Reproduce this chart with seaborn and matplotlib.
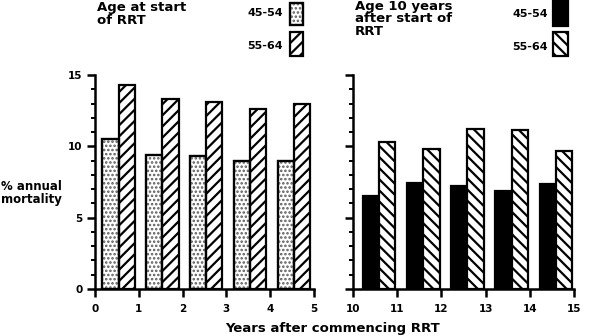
import numpy as np
import pandas as pd
import matplotlib
matplotlib.use("Agg")
import matplotlib.pyplot as plt
import seaborn as sns
from matplotlib.patches import Rectangle
from matplotlib.ticker import MultipleLocator

# ---- data ----
groups = ["45-54", "55-64"]
years_left = [0, 1, 2, 3, 4]
left_45_54 = [10.5, 9.4, 9.35, 8.95, 8.95]
left_55_64 = [14.3, 13.3, 13.1, 12.6, 13.0]
years_right = [10, 11, 12, 13, 14]
right_45_54 = [6.55, 7.45, 7.25, 6.85, 7.35]
right_55_64 = [10.3, 9.8, 11.2, 11.15, 9.7]
left_ticks = [0, 1, 2, 3, 4, 5]
right_ticks = [10, 11, 12, 13, 14, 15]
y_ticks = [0, 5, 10, 15]

sns.set_style("ticks")
plt.rcParams["font.family"] = ["DejaVu Sans"]
plt.rcParams["font.weight"] = "bold"
plt.rcParams["hatch.linewidth"] = 1.6
plt.rcParams["hatch.color"] = "black"
for k in ["text.color", "axes.labelcolor", "xtick.color", "ytick.color", "axes.edgecolor"]:
    plt.rcParams[k] = "black"

W, H = 590, 336
fig = plt.figure(figsize=(W / 100, H / 100), dpi=100)
fig.patch.set_facecolor("white")


def frac(x0, y0, w, h):
    return [x0 / W, 1 - (y0 + h) / H, w / W, h / H]


ax1 = fig.add_axes(frac(95, 75, 219, 214))
ax2 = fig.add_axes(frac(353, 75, 221, 214))


def make_df(years, a, b, offset):
    rows = []
    for yr, v in zip(years, a):
        rows.append({"pos": yr + offset, "val": v, "group": groups[0]})
    for yr, v in zip(years, b):
        rows.append({"pos": yr + offset, "val": v, "group": groups[1]})
    return pd.DataFrame(rows)


df_l = make_df(years_left, left_45_54, left_55_64, 0.54)
df_r = make_df(years_right, right_45_54, right_55_64, 0.59)

for ax, df in [(ax1, df_l), (ax2, df_r)]:
    sns.barplot(data=df, x="pos", y="val", hue="group", hue_order=groups,
                native_scale=True, width=0.74, dodge=True, errorbar=None,
                palette=["white", "white"], saturation=1, legend=False,
                edgecolor="black", linewidth=1.6, ax=ax)

DOT_COLOR = "#5a5a5a"

def set_hlw(p, lw):
    if hasattr(p, "set_hatch_linewidth"):
        p.set_hatch_linewidth(lw)

# styles
for p in ax1.containers[0]:
    p.set_facecolor("white")
    p.set_edgecolor(DOT_COLOR)
    p.set_hatch("....")
    set_hlw(p, 1.2)
    outline = Rectangle(p.get_xy(), p.get_width(), p.get_height(), facecolor="none",
                        edgecolor="black", linewidth=1.6, zorder=p.get_zorder() + 0.1)
    ax1.add_patch(outline)
for p in ax1.containers[1]:
    p.set_facecolor("white"); p.set_hatch("///")
for p in ax2.containers[0]:
    p.set_facecolor("black")
for p in ax2.containers[1]:
    p.set_facecolor("white"); p.set_hatch("\\\\\\")

for ax, ticks in [(ax1, left_ticks), (ax2, right_ticks)]:
    ax.set_xlim(ticks[0], ticks[-1])
    ax.set_ylim(0, 15)
    ax.set_xticks(ticks)
    ax.set_xticklabels([str(t) for t in ticks], fontsize=7.5, fontweight="bold")
    ax.set_yticks(y_ticks)
    ax.yaxis.set_minor_locator(MultipleLocator(1))
    ax.set_xlabel(""); ax.set_ylabel("")
    for s in ["top", "right"]:
        ax.spines[s].set_visible(False)
    for s in ["left", "bottom"]:
        ax.spines[s].set_linewidth(1.8)
    ax.tick_params(axis="x", direction="out", length=6, width=1.8, pad=5)
    ax.tick_params(axis="y", which="major", direction="out", length=6, width=1.8, pad=3)
    ax.tick_params(axis="y", which="minor", direction="out", length=3, width=1.4)
    ax.set_facecolor("white")

ax1.set_yticklabels([str(t) for t in y_ticks], fontsize=7.5, fontweight="bold")
ax2.set_yticklabels([])

# y label
fig.text(1 / W, 1 - 193 / H, "% annual\nmortality", ha="left", va="center",
         fontsize=8.5, fontweight="bold", linespacing=1.05)
# x label
fig.text(333 / W, 1 / H, "Years after commencing RRT", ha="center", va="bottom",
         fontsize=9.5, fontweight="bold")

# legend titles
fig.text(97 / W, 1 - 1 / H, "Age at start\nof RRT", ha="left", va="top",
         fontsize=9.5, fontweight="bold", linespacing=0.95)
fig.text(355 / W, 1 - 0 / H, "Age 10 years\nafter start of\nRRT", ha="left", va="top",
         fontsize=9.5, fontweight="bold", linespacing=0.95)

# legend entries
def legend_box(x0, y0, w, h, fc, hatch, ec="black"):
    r = Rectangle((x0 / W, 1 - (y0 + h) / H), w / W, h / H, transform=fig.transFigure,
                  facecolor=fc, edgecolor=ec, linewidth=1.6, hatch=hatch)
    fig.patches.append(r)
    return r

fig.text(283 / W, 1 - 13 / H, groups[0], ha="right", va="center", fontsize=8, fontweight="bold")
fig.text(283 / W, 1 - 46 / H, groups[1], ha="right", va="center", fontsize=8, fontweight="bold")
lb = legend_box(290, 3, 13, 22, "white", "....", ec=DOT_COLOR)
set_hlw(lb, 1.2)
legend_box(290, 3, 13, 22, "none", None)
legend_box(290, 32, 13, 24, "white", "///")

fig.text(548 / W, 1 - 14 / H, groups[0], ha="right", va="center", fontsize=8, fontweight="bold")
fig.text(548 / W, 1 - 47 / H, groups[1], ha="right", va="center", fontsize=8, fontweight="bold")
legend_box(553, 0, 15, 26, "black", None)
legend_box(553, 32, 15, 24, "white", "\\\\\\")

fig.savefig("out.png", dpi=100)
